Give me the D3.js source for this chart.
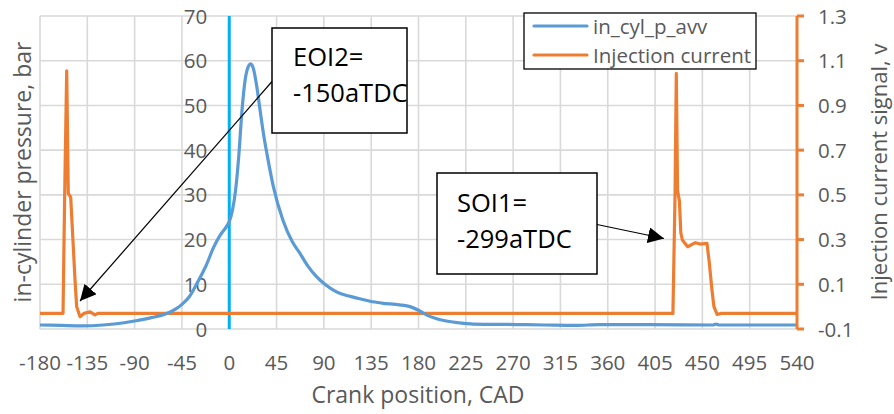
<!DOCTYPE html>
<html><head><meta charset="utf-8">
<script src="https://cdn.jsdelivr.net/npm/d3@7/dist/d3.min.js"></script>
<style>
body{margin:0;background:#fff;}
svg text{font-family:"Open Sans",sans-serif;}
</style></head>
<body><svg id="c" width="894" height="414"></svg>
<script>
// Data
const xTicks = [-180,-135,-90,-45,0,45,90,135,180,225,270,315,360,405,450,495,540];
const yLeftTicks = [0,10,20,30,40,50,60,70];
const yRightTicks = [-0.1,0.1,0.3,0.5,0.7,0.9,1.1,1.3];
const pressureCAD = [-180,-160,-140,-120,-100,-90,-75,-60,-50,-45,-38,-30,-22,-15,-8,-3,0,3,6,9,12,15,18,20.5,23,26,29,33,36,42,51,60,67,75,83,91,99,107,115,125,134,145,162,172,180,188,196,204,218,232,273,300,330,352,400,460,463,466,540];
const pressureBar = [0.9,0.8,0.7,0.9,1.4,1.8,2.5,3.4,4.6,5.5,7.2,10.5,14.2,18.2,21.2,22.8,24,26.5,31,38.5,48.5,55.5,58.6,59.3,58.2,54.5,49.5,43,39,31.8,24.4,19.5,17,14,11.7,10,8.7,7.8,7.3,6.7,6.2,5.8,5.4,5.0,4.2,3.1,2.4,1.9,1.4,1.1,1.0,0.9,0.8,1.0,1.0,0.9,1.1,0.9,0.9];
const currentCAD = [-180,-158.1,-156.5,-154.6,-153.1,-150.8,-146.7,-145.1,-141.9,-138,-132.4,-127.7,-125,422,424,425.2,426.4,428.2,429.5,431,436,443.3,448,454.4,456.5,459,461,464,468,540];
const currentV = [-0.03,-0.03,0.51,1.055,0.507,0.49,0.12,0.0,-0.045,-0.03,-0.023,-0.037,-0.03,-0.03,0.5,1.043,0.52,0.47,0.33,0.298,0.268,0.286,0.28,0.283,0.2,0.08,0.0,-0.035,-0.03,-0.03];
const seriesNames = ["in_cyl_p_avv","Injection current"];
const annotations = [
  {lines:["EOI2=","-150aTDC"]},
  {lines:["SOI1=","-299aTDC"]}
];

const svg = d3.select("#c");
const L=40, R=797, T=16, B=329;
const x = d3.scaleLinear().domain([-180,540]).range([L,R]);
const yL = d3.scaleLinear().domain([0,70]).range([B,T]);
const yR = d3.scaleLinear().domain([-0.1,1.3]).range([B,T]);
const grid="#d9d9d9", txt="#595959", blue="#5B9BD5", orange="#ED7D31", fs=20.5, tfs=23;

// gridlines
svg.append("g").selectAll("line").data(yLeftTicks).join("line")
  .attr("x1",L).attr("x2",R).attr("y1",d=>yL(d)).attr("y2",d=>yL(d))
  .attr("stroke",grid).attr("stroke-width",1.6);
svg.append("g").selectAll("line").data(xTicks).join("line")
  .attr("x1",d=>x(d)).attr("x2",d=>x(d)).attr("y1",T).attr("y2",B)
  .attr("stroke",grid).attr("stroke-width",1.6);

// x labels
svg.append("g").selectAll("text").data(xTicks).join("text")
  .attr("x",d=>x(d)).attr("y",369.5).attr("text-anchor","middle")
  .attr("font-size",fs).attr("fill",txt).text(d=>d);
// left labels
svg.append("g").selectAll("text").data(yLeftTicks).join("text")
  .attr("x",x(0)-22).attr("y",d=>yL(d)+7.5).attr("text-anchor","end")
  .attr("font-size",fs).attr("fill",txt).text(d=>d);
// right labels
svg.append("g").selectAll("text").data(yRightTicks).join("text")
  .attr("x",818).attr("y",d=>yR(d)+7.5).attr("text-anchor","start")
  .attr("font-size",fs).attr("fill",txt).text(d=>d.toFixed(1));

// axis titles
svg.append("text").attr("x",418).attr("y",403).attr("text-anchor","middle")
  .attr("font-size",tfs).attr("fill",txt).text("Crank position, CAD");
svg.append("text").attr("transform","translate(22,172) rotate(-90)").attr("text-anchor","middle")
  .attr("dominant-baseline","central")
  .attr("font-size",tfs).attr("fill",txt).text("in-cylinder pressure, bar");
svg.append("text").attr("transform","translate(878,172) rotate(-90)").attr("text-anchor","middle")
  .attr("dominant-baseline","central")
  .attr("font-size",22).attr("fill",txt).text("Injection current signal, v");

// left axis line at x=0
svg.append("line").attr("x1",x(0)).attr("x2",x(0)).attr("y1",T).attr("y2",B)
  .attr("stroke","#00B0F0").attr("stroke-width",3);

// series
const pData = pressureCAD.map((c,i)=>[c,pressureBar[i]]);
const cData = currentCAD.map((c,i)=>[c,currentV[i]]);
svg.append("path").datum(cData)
  .attr("d",d3.line().x(d=>x(d[0])).y(d=>yR(d[1])))
  .attr("fill","none").attr("stroke",orange).attr("stroke-width",3.2).attr("stroke-linejoin","round");
svg.append("path").datum(pData)
  .attr("d",d3.line().x(d=>x(d[0])).y(d=>yL(d[1])).curve(d3.curveMonotoneX))
  .attr("fill","none").attr("stroke",blue).attr("stroke-width",3.2).attr("stroke-linejoin","round");

// right axis
svg.append("line").attr("x1",R).attr("x2",R).attr("y1",T).attr("y2",B)
  .attr("stroke",orange).attr("stroke-width",3);
svg.append("g").selectAll("line").data(yRightTicks).join("line")
  .attr("x1",R).attr("x2",R+7).attr("y1",d=>yR(d)).attr("y2",d=>yR(d))
  .attr("stroke",orange).attr("stroke-width",3);

// legend
const lg = svg.append("g");
lg.append("rect").attr("x",524).attr("y",13).attr("width",232).attr("height",56)
  .attr("fill","#fff").attr("stroke","#000").attr("stroke-width",1.3);
[blue,orange].forEach((col,i)=>{
  const yy = 26+i*29;
  lg.append("line").attr("x1",534).attr("x2",587).attr("y1",yy).attr("y2",yy)
    .attr("stroke",col).attr("stroke-width",3.2).attr("stroke-linecap","round");
  lg.append("text").attr("x",593).attr("y",yy+7.5).attr("font-size",fs).attr("fill",txt).text(seriesNames[i]);
});

// annotations
const defs = svg.append("defs");
defs.append("marker").attr("id","ah").attr("viewBox","0 0 10 10").attr("refX",10).attr("refY",5)
  .attr("markerWidth",16).attr("markerHeight",16).attr("markerUnits","userSpaceOnUse").attr("orient","auto")
  .append("path").attr("d","M0,0 L10,5 L0,10 z").attr("fill","#000");

const boxes = [{x:272,y:28,w:135,h:105,tx:293,ty:66},{x:437,y:173,w:160,h:101,tx:457,ty:212}];
boxes.forEach((b,i)=>{
  svg.append("rect").attr("x",b.x).attr("y",b.y).attr("width",b.w).attr("height",b.h)
    .attr("fill","#fff").attr("stroke","#000").attr("stroke-width",1.5);
  annotations[i].lines.forEach((s,j)=>{
    svg.append("text").attr("x",b.tx).attr("y",b.ty+j*36).attr("font-size",25.5).attr("fill","#000").text(s);
  });
});
svg.append("line").attr("x1",272).attr("y1",81.5).attr("x2",80).attr("y2",301)
  .attr("stroke","#000").attr("stroke-width",1.2).attr("marker-end","url(#ah)");
svg.append("line").attr("x1",597).attr("y1",224.5).attr("x2",664).attr("y2",238.5)
  .attr("stroke","#000").attr("stroke-width",1.2).attr("marker-end","url(#ah)");
</script></body></html>
